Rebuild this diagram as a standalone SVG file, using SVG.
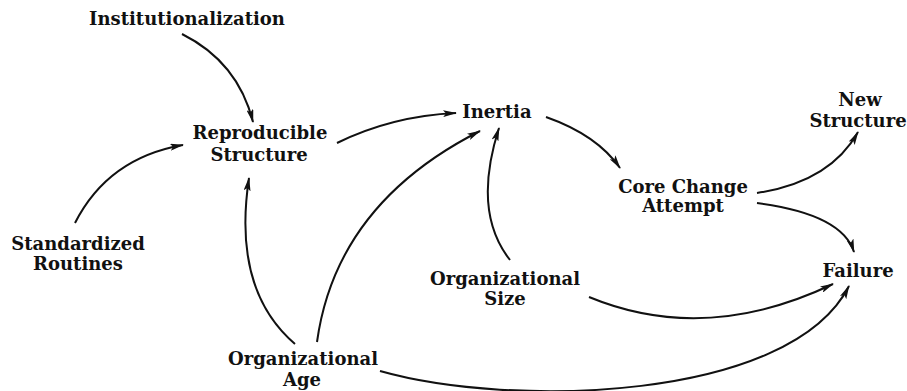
<svg xmlns="http://www.w3.org/2000/svg" width="907" height="391" viewBox="0 0 907 391">
<style>
text{font-family:"DejaVu Serif","Liberation Serif",serif;font-weight:bold;font-size:18px;fill:#111;text-anchor:middle}
.c{fill:none;stroke:#111;stroke-width:2;marker-end:url(#ah)}
</style>
<defs>
<marker id="ah" markerUnits="userSpaceOnUse" markerWidth="14" markerHeight="7" refX="13" refY="3.5" orient="auto">
<path d="M0,0 L14,3.5 L0,7 L3,3.5 z" fill="#111"/>
</marker>
</defs>
<rect width="907" height="391" fill="#fff"/>
<g id="n-institutionalization"><text x="187" y="25">Institutionalization</text></g>
<g id="n-reproducible"><text x="260" y="139">Reproducible</text><text x="259" y="161">Structure</text></g>
<g id="n-inertia"><text x="497" y="118">Inertia</text></g>
<g id="n-newstructure"><text x="860" y="106">New</text><text x="858" y="127">Structure</text></g>
<g id="n-corechange"><text x="683" y="193">Core Change</text><text x="683" y="212">Attempt</text></g>
<g id="n-failure"><text x="858" y="277">Failure</text></g>
<g id="n-size"><text x="505" y="285">Organizational</text><text x="505" y="305">Size</text></g>
<g id="n-standardized"><text x="78" y="250">Standardized</text><text x="78" y="270">Routines</text></g>
<g id="n-age"><text x="303" y="365">Organizational</text><text x="302" y="386">Age</text></g>
<g id="connectors">
<path class="c" d="M182,34 Q238,62 253,122"/>
<path class="c" d="M75,223 Q108,158 183,145"/>
<path class="c" d="M295,344 Q232,290 249,178"/>
<path class="c" d="M317,342 Q336,204 480,131"/>
<path class="c" d="M337,143 Q392,116 456,113"/>
<path class="c" d="M546,117 Q597,135 620,168"/>
<path class="c" d="M510,260 Q472,212 499,128"/>
<path class="c" d="M757,193 Q830,182 858,132"/>
<path class="c" d="M757,203 Q842,214 854,252"/>
<path class="c" d="M589,297 Q705,345 833,284"/>
<path class="c" d="M380,371 C510,408 790,402 849,286"/>
</g>
</svg>
